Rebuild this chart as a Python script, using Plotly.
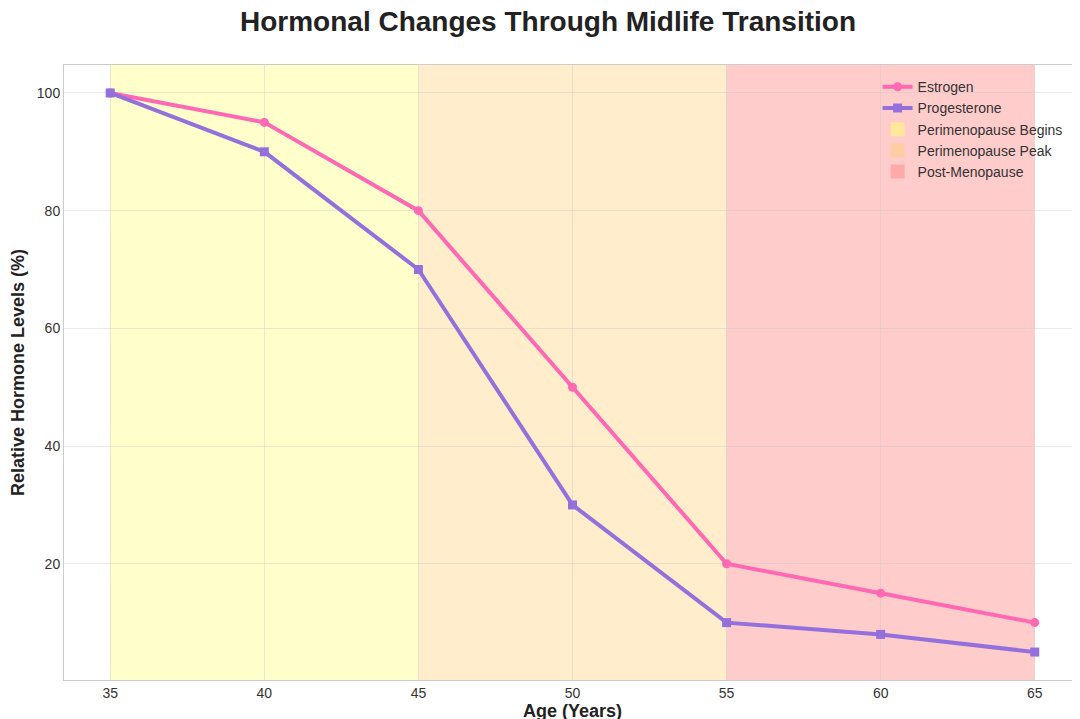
import plotly.graph_objects as go

ages = [35, 40, 45, 50, 55, 60, 65]
estrogen = [100, 95, 80, 50, 20, 15, 10]
progesterone = [100, 90, 70, 30, 10, 8, 5]

phases = [
    ("Perimenopause Begins", 35, 45, "rgba(255,255,0,0.2)", "rgba(255,235,150,0.9)"),
    ("Perimenopause Peak", 45, 55, "rgba(255,165,0,0.2)", "rgba(255,205,160,0.9)"),
    ("Post-Menopause", 55, 65, "rgba(255,0,0,0.2)", "rgba(255,165,165,0.9)"),
]

fig = go.Figure()
for name, x0, x1, fill, legend_col in phases:
    fig.add_vrect(x0=x0, x1=x1, fillcolor=fill, line_width=0, layer="below")

fig.add_trace(go.Scatter(x=ages, y=estrogen, name="Estrogen", mode="lines+markers",
                         line=dict(color="#FF69B4", width=4), marker=dict(size=9, symbol="circle")))
fig.add_trace(go.Scatter(x=ages, y=progesterone, name="Progesterone", mode="lines+markers",
                         line=dict(color="#9370DB", width=4), marker=dict(size=9, symbol="square")))
for name, x0, x1, fill, legend_col in phases:
    fig.add_trace(go.Scatter(x=[None], y=[None], name=name, mode="markers",
                             marker=dict(symbol="square", size=14, color=legend_col)))

fig.update_layout(
    width=1080, height=719,
    paper_bgcolor="white", plot_bgcolor="white",
    font=dict(family="Liberation Sans, Arial", size=14, color="#333"),
    title=dict(text="<b>Hormonal Changes Through Midlife Transition</b>", x=0.5, y=0.995,
               xanchor="center", yanchor="top", font=dict(size=28, color="#222"),
               automargin=False),
    margin=dict(l=56, r=7, t=57, b=47),
    showlegend=True,
    legend=dict(x=0.8, y=0.99, xanchor="left", yanchor="top", bgcolor="rgba(0,0,0,0)",
                font=dict(size=14, color="#333"), tracegroupgap=0),
)
fig.update_xaxes(range=[33.5, 66.5], tickvals=[35, 40, 45, 50, 55, 60, 65], automargin=False,
                 title=dict(text="<b>Age (Years)</b>", font=dict(size=18, color="#222"), standoff=4),
                 showgrid=True, gridcolor="rgba(200,200,200,0.4)", zeroline=False,
                 showline=True, linecolor="#ccc", mirror=True, ticks="")
fig.update_yaxes(range=[0.25, 104.75], tickvals=[20, 40, 60, 80, 100], automargin=False,
                 title=dict(text="<b>Relative Hormone Levels (%)</b>", font=dict(size=18, color="#222"), standoff=8),
                 showgrid=True, gridcolor="rgba(200,200,200,0.4)", zeroline=False,
                 showline=True, linecolor="#ccc", mirror=True, ticks="")

fig.write_html("out.html")
